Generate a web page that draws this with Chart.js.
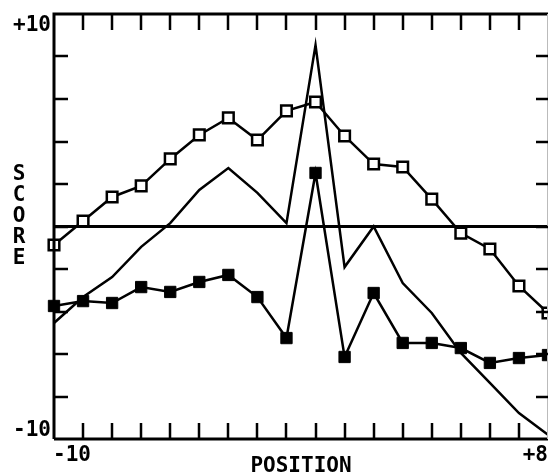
<!DOCTYPE html>
<html>
<head>
<meta charset="utf-8">
<script src="https://cdn.jsdelivr.net/npm/chart.js@4/dist/chart.umd.min.js"></script>
<style>
  html, body { margin: 0; padding: 0; background: #fff; }
  #wrap { width: 548px; height: 475px; }
</style>
</head>
<body>
<div id="wrap"><canvas id="c" width="548" height="475"></canvas></div>
<script>
// Sequence positions (no position 0)
const positions = ['-10','-9','-8','-7','-6','-5','-4','-3','-2','-1','+1','+2','+3','+4','+5','+6','+7','+8'];
// Open-square series
const openSquares = [-0.87, 0.26, 1.39, 1.91, 3.18, 4.31, 5.11, 4.07, 5.44, 5.86, 4.26, 2.94, 2.80, 1.29, -0.31, -1.06, -2.80, -4.07];
// Filled-square series
const filledSquares = [-3.74, -3.51, -3.60, -2.85, -3.08, -2.61, -2.28, -3.32, -5.25, 2.52, -6.14, -3.13, -5.48, -5.48, -5.72, -6.42, -6.19, -6.05];
// Plain line series (no markers)
const plainLine = [-4.54, -3.32, -2.38, -0.96, 0.16, 1.72, 2.75, 1.58, 0.16, 8.54, -1.91, 0.00, -2.66, -4.07, -5.95, -7.36, -8.78, -9.80];
// Axis range and tick labels
const yMin = -10, yMax = 10, yStep = 2;
const yTickLabels = ['-10', '+10'];
const xTickLabels = ['-10', '+8'];
const xTitle = 'POSITION';
const yTitle = 'SCORE';

const FONT = 'bold 21px "DejaVu Sans Mono", monospace';

const framePlugin = {
  id: 'frame',
  afterDatasetsDraw(chart) {
    const ctx = chart.ctx;
    const xs = chart.scales.x, ys = chart.scales.y;
    const a = chart.chartArea;
    ctx.save();
    ctx.strokeStyle = '#000';
    ctx.lineCap = 'butt';
    // zero reference line
    ctx.lineWidth = 3;
    const y0 = ys.getPixelForValue(0);
    ctx.beginPath(); ctx.moveTo(a.left, y0); ctx.lineTo(a.right, y0); ctx.stroke();
    // frame: left, top, bottom
    ctx.lineWidth = 3;
    ctx.beginPath();
    ctx.moveTo(a.left, a.bottom); ctx.lineTo(a.left, a.top); ctx.lineTo(a.right, a.top);
    ctx.moveTo(a.left, a.bottom); ctx.lineTo(a.right, a.bottom);
    ctx.stroke();
    // faint right edge
    ctx.lineWidth = 1;
    ctx.strokeStyle = '#bbb';
    ctx.beginPath(); ctx.moveTo(a.right - 0.5, a.top); ctx.lineTo(a.right - 0.5, a.bottom); ctx.stroke();
    ctx.strokeStyle = '#000';
    // x ticks (inward), top and bottom
    ctx.lineWidth = 2.5;
    ctx.beginPath();
    for (let i = 1; i < positions.length - 1; i++) {
      const px = Math.round(xs.getPixelForValue(i));
      ctx.moveTo(px, a.top); ctx.lineTo(px, a.top + 16);
      ctx.moveTo(px, a.bottom); ctx.lineTo(px, a.bottom - 16);
    }
    // y ticks (inward), left and right
    for (let v = yMin + yStep; v < yMax; v += yStep) {
      const py = Math.round(ys.getPixelForValue(v));
      ctx.moveTo(a.left, py); ctx.lineTo(a.left + 14, py);
      ctx.moveTo(a.right, py); ctx.lineTo(a.right - 12, py);
    }
    ctx.stroke();
    // labels
    ctx.fillStyle = '#000';
    ctx.font = FONT;
    ctx.textBaseline = 'middle';
    ctx.textAlign = 'right';
    ctx.fillText(yTickLabels[1], a.left - 3, ys.getPixelForValue(yMax) + 12);
    ctx.fillText(yTickLabels[0], a.left - 3, ys.getPixelForValue(yMin) - 8);
    ctx.textAlign = 'left';
    ctx.fillText(xTickLabels[0], xs.getPixelForValue(0) - 1, a.bottom + 17);
    ctx.textAlign = 'right';
    ctx.fillText(xTickLabels[1], xs.getPixelForValue(positions.length - 1), a.bottom + 17);
    ctx.textAlign = 'center';
    ctx.fillText(xTitle, (a.left + a.right) / 2 + 0, a.bottom + 28);
    // vertical stacked y title
    const letters = yTitle.split('');
    const yc = (ys.getPixelForValue(0)) - 10;
    for (let i = 0; i < letters.length; i++) {
      ctx.fillText(letters[i], 19, yc + (i - (letters.length - 1) / 2) * 21);
    }
    ctx.restore();
  }
};

new Chart(document.getElementById('c'), {
  type: 'line',
  data: {
    labels: positions,
    datasets: [
      {
        label: 'plain',
        data: plainLine,
        borderColor: '#000',
        borderWidth: 2.5,
        pointRadius: 0,
        tension: 0,
        fill: false
      },
      {
        label: 'filled',
        data: filledSquares,
        borderColor: '#000',
        borderWidth: 2.5,
        pointStyle: 'rect',
        pointRadius: 8,
        pointBackgroundColor: '#000',
        pointBorderColor: '#000',
        pointBorderWidth: 1,
        tension: 0,
        fill: false
      },
      {
        label: 'open',
        data: openSquares,
        borderColor: '#000',
        borderWidth: 2.5,
        pointStyle: 'rect',
        pointRadius: 7.5,
        pointBackgroundColor: '#fff',
        pointBorderColor: '#000',
        pointBorderWidth: 2.5,
        tension: 0,
        fill: false
      }
    ]
  },
  options: {
    responsive: false,
    animation: false,
    devicePixelRatio: 1,
    layout: { autoPadding: false, padding: { left: 54, right: 0, top: 14, bottom: 36 } },
    plugins: { legend: { display: false }, tooltip: { enabled: false } },
    scales: {
      x: { type: 'category', offset: false, display: false },
      y: { type: 'linear', min: yMin, max: yMax, display: false }
    }
  },
  plugins: [framePlugin]
});
</script>
</body>
</html>
